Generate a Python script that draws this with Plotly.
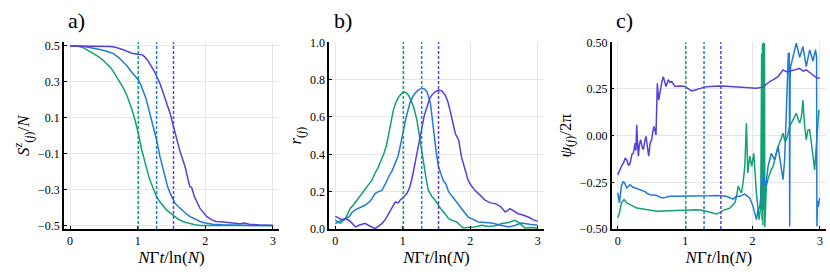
import plotly.graph_objects as go

# ---------------- data ----------------
vlines = [1.01, 1.28, 1.53]   # green, blue, purple dashed markers

# panel a: S^z/N
green_a_t = [0, 0.1, 0.2, 0.27, 0.34, 0.42, 0.49, 0.54, 0.59, 0.64, 0.69, 0.74, 0.79, 0.84, 0.885, 0.92, 0.96, 1.01, 1.06, 1.1, 1.13, 1.17, 1.2, 1.24, 1.28, 1.33, 1.38, 1.43, 1.48, 1.55, 1.62, 1.7, 1.77, 1.85, 1.92, 2.1, 2.4, 2.7, 3.0]
green_a = [0.5, 0.5, 0.489, 0.474, 0.457, 0.44, 0.42, 0.403, 0.383, 0.358, 0.328, 0.3, 0.263, 0.225, 0.18, 0.14, 0.087, 0.013, -0.08, -0.14, -0.19, -0.235, -0.265, -0.305, -0.34, -0.37, -0.395, -0.415, -0.43, -0.452, -0.47, -0.482, -0.49, -0.496, -0.5, -0.5, -0.5, -0.5, -0.5]

blue_a_t = [0, 0.15, 0.25, 0.35, 0.44, 0.54, 0.64, 0.72, 0.79, 0.85, 0.91, 0.96, 1.01, 1.05, 1.08, 1.12, 1.155, 1.19, 1.23, 1.28, 1.33, 1.37, 1.4, 1.44, 1.48, 1.52, 1.55, 1.6, 1.65, 1.71, 1.77, 1.85, 1.92, 2.0, 2.11, 2.25, 2.41, 2.7, 3.0]
blue_a = [0.5, 0.499, 0.494, 0.488, 0.48, 0.47, 0.457, 0.435, 0.41, 0.385, 0.355, 0.335, 0.31, 0.28, 0.254, 0.21, 0.16, 0.11, 0.05, -0.024, -0.117, -0.175, -0.228, -0.28, -0.32, -0.355, -0.376, -0.395, -0.413, -0.432, -0.45, -0.466, -0.478, -0.486, -0.493, -0.496, -0.498, -0.5, -0.5]

purple_a_t = [0, 0.2, 0.4, 0.59, 0.67, 0.74, 0.8, 0.86, 0.93, 0.98, 1.03, 1.07, 1.1, 1.14, 1.18, 1.25, 1.33, 1.4, 1.48, 1.55, 1.62, 1.7, 1.74, 1.77, 1.8, 1.84, 1.92, 1.97, 2.02, 2.09, 2.16, 2.23, 2.31, 2.4, 2.51, 2.58, 2.65, 2.8, 3.0]
purple_a = [0.5, 0.5, 0.5, 0.496, 0.492, 0.485, 0.477, 0.467, 0.457, 0.455, 0.452, 0.45, 0.44, 0.425, 0.40, 0.356, 0.29, 0.217, 0.124, 0.022, -0.08, -0.172, -0.24, -0.283, -0.29, -0.34, -0.404, -0.43, -0.45, -0.468, -0.478, -0.48, -0.483, -0.487, -0.49, -0.486, -0.493, -0.498, -0.5]

# panel b: r
green_b_t = [0, 0.07, 0.15, 0.22, 0.27, 0.32, 0.37, 0.42, 0.48, 0.54, 0.59, 0.64, 0.68, 0.72, 0.76, 0.79, 0.83, 0.86, 0.9, 0.94, 0.98, 1.01, 1.05, 1.085, 1.12, 1.16, 1.21, 1.26, 1.31, 1.35, 1.38, 1.43, 1.48, 1.53, 1.58, 1.63, 1.68, 1.74, 1.8, 1.85, 1.9, 1.98, 2.07, 2.17, 2.27, 2.37, 2.47, 2.57, 2.66, 2.74, 2.81, 2.9, 3.0]
green_b = [0.047, 0.03, 0.055, 0.11, 0.13, 0.154, 0.18, 0.2, 0.23, 0.26, 0.3, 0.333, 0.37, 0.404, 0.45, 0.51, 0.58, 0.637, 0.68, 0.708, 0.725, 0.735, 0.73, 0.717, 0.69, 0.655, 0.583, 0.458, 0.333, 0.26, 0.207, 0.175, 0.154, 0.125, 0.1, 0.08, 0.055, 0.045, 0.038, 0.02, 0.005, 0.01, 0.011, 0.02, 0.014, 0.018, 0.029, 0.035, 0.047, 0.03, 0.005, 0.008, 0.005]

blue_b_t = [0, 0.05, 0.1, 0.15, 0.2, 0.25, 0.3, 0.37, 0.44, 0.52, 0.59, 0.64, 0.69, 0.74, 0.79, 0.84, 0.89, 0.93, 0.96, 1.0, 1.04, 1.08, 1.11, 1.15, 1.18, 1.23, 1.28, 1.32, 1.36, 1.41, 1.46, 1.5, 1.53, 1.57, 1.6, 1.64, 1.68, 1.73, 1.78, 1.83, 1.87, 1.92, 1.97, 2.05, 2.12, 2.22, 2.32, 2.45, 2.57, 2.67, 2.76, 2.88, 3.0]
blue_b = [0.029, 0.04, 0.047, 0.058, 0.064, 0.09, 0.104, 0.115, 0.127, 0.15, 0.19, 0.2, 0.207, 0.24, 0.28, 0.31, 0.35, 0.39, 0.44, 0.52, 0.583, 0.64, 0.68, 0.71, 0.726, 0.745, 0.753, 0.75, 0.735, 0.673, 0.51, 0.4, 0.333, 0.29, 0.26, 0.24, 0.2, 0.175, 0.154, 0.13, 0.11, 0.085, 0.064, 0.05, 0.038, 0.035, 0.032, 0.02, 0.011, 0.02, 0.032, 0.025, 0.02]

purple_b_t = [0, 0.05, 0.1, 0.15, 0.2, 0.25, 0.3, 0.35, 0.39, 0.44, 0.49, 0.54, 0.59, 0.64, 0.69, 0.74, 0.79, 0.84, 0.89, 0.93, 0.96, 1.01, 1.06, 1.1, 1.13, 1.17, 1.21, 1.25, 1.28, 1.32, 1.36, 1.4, 1.43, 1.48, 1.53, 1.58, 1.63, 1.67, 1.7, 1.74, 1.78, 1.81, 1.83, 1.87, 1.92, 1.97, 2.02, 2.07, 2.15, 2.22, 2.3, 2.37, 2.45, 2.52, 2.59, 2.65, 2.71, 2.78, 2.86, 2.93, 3.0]
purple_b = [0.068, 0.06, 0.05, 0.055, 0.047, 0.03, 0.011, 0.02, 0.025, 0.03, 0.02, 0.012, 0.002, 0.015, 0.029, 0.05, 0.082, 0.11, 0.145, 0.14, 0.154, 0.17, 0.19, 0.22, 0.26, 0.33, 0.404, 0.48, 0.547, 0.61, 0.655, 0.7, 0.717, 0.735, 0.744, 0.74, 0.717, 0.68, 0.637, 0.57, 0.51, 0.49, 0.476, 0.386, 0.32, 0.26, 0.23, 0.207, 0.18, 0.154, 0.14, 0.136, 0.12, 0.091, 0.109, 0.095, 0.082, 0.075, 0.064, 0.05, 0.041]

# panel c: psi/2pi
green_c_t = [0, 0.025, 0.054, 0.094, 0.133, 0.183, 0.23, 0.281, 0.35, 0.429, 0.5, 0.577, 0.68, 0.775, 0.87, 0.972, 1.07, 1.169, 1.25, 1.317, 1.4, 1.465, 1.52, 1.564, 1.663, 1.737, 1.76, 1.786, 1.81, 1.835, 1.86, 1.885, 1.909, 1.929, 1.959, 1.988, 2.018, 2.057, 2.097, 2.121, 2.135, 2.141, 2.147, 2.153, 2.158, 2.163, 2.168, 2.172, 2.177, 2.182, 2.186, 2.205, 2.23, 2.255, 2.28, 2.304, 2.33, 2.353, 2.38, 2.403, 2.43, 2.452, 2.48, 2.502, 2.53, 2.551, 2.58, 2.6, 2.625, 2.649, 2.675, 2.699, 2.725, 2.748, 2.773, 2.797, 2.82, 2.847, 2.87, 2.896, 2.921, 2.945, 2.965, 2.985]
green_c = [-0.44, -0.414, -0.36, -0.343, -0.36, -0.37, -0.38, -0.388, -0.392, -0.397, -0.4, -0.405, -0.404, -0.402, -0.4, -0.4, -0.398, -0.397, -0.4, -0.405, -0.412, -0.42, -0.41, -0.4, -0.388, -0.36, -0.33, -0.27, -0.29, -0.307, -0.25, -0.165, 0.067, -0.2, -0.11, -0.165, -0.094, -0.307, -0.45, -0.38, 0.44, -0.45, 0.49, -0.48, 0.5, -0.4, 0.48, -0.46, 0.495, -0.49, -0.45, -0.27, -0.23, -0.2, -0.18, -0.165, -0.12, -0.094, -0.06, -0.04, -0.01, 0.013, -0.03, -0.022, 0.02, 0.05, 0.07, 0.085, 0.1, 0.12, 0.09, 0.067, 0.1, 0.19, 0.05, -0.022, 0.03, 0.031, -0.03, -0.094, -0.183, -0.058, 0.05, 0.138]

blue_c_t = [0, 0.025, 0.054, 0.084, 0.11, 0.133, 0.16, 0.183, 0.22, 0.257, 0.29, 0.33, 0.37, 0.405, 0.44, 0.479, 0.53, 0.577, 0.63, 0.676, 0.73, 0.775, 0.873, 0.97, 1.071, 1.17, 1.268, 1.37, 1.465, 1.54, 1.613, 1.712, 1.76, 1.811, 1.885, 1.959, 2.008, 2.057, 2.08, 2.107, 2.156, 2.195, 2.23, 2.279, 2.328, 2.378, 2.427, 2.452, 2.476, 2.511, 2.531, 2.545, 2.551, 2.557, 2.565, 2.6, 2.649, 2.699, 2.748, 2.797, 2.847, 2.896, 2.935, 2.95, 2.955, 2.965, 2.975, 2.995]
blue_c = [-0.307, -0.36, -0.27, -0.245, -0.26, -0.28, -0.27, -0.263, -0.275, -0.28, -0.285, -0.29, -0.295, -0.3, -0.31, -0.316, -0.318, -0.32, -0.33, -0.334, -0.328, -0.325, -0.325, -0.325, -0.325, -0.325, -0.325, -0.322, -0.32, -0.323, -0.325, -0.34, -0.325, -0.325, -0.313, -0.334, -0.38, -0.45, -0.4, -0.38, -0.218, -0.27, -0.165, -0.094, -0.13, -0.058, -0.165, -0.236, -0.13, 0.19, 0.44, 0.44, -0.486, 0.3, 0.37, 0.42, 0.495, 0.42, 0.477, 0.37, 0.46, 0.4, 0.46, 0.42, -0.486, -0.35, -0.38, -0.334]

purple_c_t = [0, 0.035, 0.06, 0.084, 0.11, 0.133, 0.16, 0.183, 0.21, 0.232, 0.257, 0.27, 0.281, 0.295, 0.306, 0.32, 0.34, 0.36, 0.38, 0.4, 0.419, 0.44, 0.459, 0.48, 0.503, 0.52, 0.538, 0.567, 0.587, 0.607, 0.636, 0.656, 0.676, 0.695, 0.715, 0.75, 0.775, 0.8, 0.849, 0.923, 0.997, 1.05, 1.095, 1.15, 1.219, 1.29, 1.367, 1.44, 1.515, 1.61, 1.712, 1.81, 1.909, 1.98, 2.057, 2.156, 2.2, 2.255, 2.31, 2.378, 2.452, 2.502, 2.55, 2.6, 2.65, 2.699, 2.75, 2.797, 2.85, 2.896, 2.95, 2.995]
purple_c = [-0.21, -0.174, -0.16, -0.147, -0.12, -0.13, -0.16, -0.147, -0.1, -0.094, -0.04, -0.08, 0.058, -0.05, -0.11, -0.05, -0.022, -0.06, -0.075, -0.03, -0.004, -0.06, -0.11, -0.04, -0.022, 0.02, 0.05, 0.004, 0.28, 0.19, 0.263, 0.29, 0.316, 0.28, 0.263, 0.3, 0.285, 0.29, 0.263, 0.266, 0.263, 0.25, 0.24, 0.245, 0.254, 0.26, 0.263, 0.265, 0.266, 0.265, 0.263, 0.262, 0.26, 0.258, 0.254, 0.26, 0.275, 0.29, 0.3, 0.316, 0.352, 0.343, 0.345, 0.348, 0.355, 0.36, 0.345, 0.352, 0.34, 0.325, 0.31, 0.307]

# ---------------- style ----------------
GREEN = "#11a173"
BLUE = "#1f7bd3"
PURPLE = "#5a3ddb"
colors = [GREEN, BLUE, PURPLE]
FONT = "'Liberation Serif', 'DejaVu Serif', serif"

fig = go.Figure()

panels = [
    ("x", "y", [(green_a_t, green_a), (blue_a_t, blue_a), (purple_a_t, purple_a)]),
    ("x2", "y2", [(green_b_t, green_b), (blue_b_t, blue_b), (purple_b_t, purple_b)]),
    ("x3", "y3", [(green_c_t, green_c), (blue_c_t, blue_c), (purple_c_t, purple_c)]),
]
for xa, ya, series in panels:
    for (t, v), c in zip(series, colors):
        fig.add_trace(go.Scatter(x=t, y=v, mode="lines", xaxis=xa, yaxis=ya,
                                 line=dict(color=c, width=1.5), showlegend=False,
                                 hoverinfo="skip"))
    for xv, c in zip(vlines, colors):
        fig.add_shape(type="line", xref=xa, yref=ya + " domain", x0=xv, x1=xv, y0=0, y1=1,
                      line=dict(color=c, width=1.5, dash="3px,2px"))

ydom = [0.1642, 0.8456]
xdoms = [[0.0771, 0.3361], [0.3967, 0.6551], [0.737, 0.9952]]
xtitle = "<i>N</i>Γ<i>t</i>/ln(<i>N</i>)"
common_x = dict(range=[-0.09, 3.09], tickvals=[0, 1, 2, 3], showgrid=True,
                gridcolor="#e6e6e6", gridwidth=1, zeroline=False, showline=True,
                linecolor="black", linewidth=1.5, ticks="inside", ticklen=3,
                tickcolor="black", tickfont=dict(family=FONT, size=12, color="black"),
                title=dict(text=xtitle, font=dict(family=FONT, size=17, color="black"), standoff=1),
                automargin=False)
common_y = dict(showgrid=True, gridcolor="#e6e6e6", gridwidth=1, zeroline=False,
                showline=True, linecolor="black", linewidth=1.5, ticks="inside",
                ticklen=3, tickcolor="black",
                tickfont=dict(family=FONT, size=12, color="black"), automargin=False,
                domain=ydom)

fig.update_layout(
    width=830, height=274, margin=dict(l=0, r=0, t=0, b=0),
    paper_bgcolor="white", plot_bgcolor="white",
    font=dict(family=FONT, color="black"),
    xaxis=dict(common_x, domain=xdoms[0], anchor="y"),
    xaxis2=dict(common_x, domain=xdoms[1], anchor="y2"),
    xaxis3=dict(common_x, domain=xdoms[2], anchor="y3"),
    yaxis=dict(common_y, anchor="x", range=[-0.52, 0.52],
               tickvals=[0.5, 0.3, 0.1, -0.1, -0.3, -0.5], tickformat=".1f",
               title=dict(text="<i>S</i><sup><i>z</i></sup><sub>(<i>j</i>)</sub>/<i>N</i>",
                          font=dict(family=FONT, size=17, color="black"), standoff=4)),
    yaxis2=dict(common_y, anchor="x2", range=[0, 1],
                tickvals=[0, 0.2, 0.4, 0.6, 0.8, 1.0], tickformat=".1f",
                title=dict(text="<i>r</i><sub>(<i>j</i>)</sub>",
                           font=dict(family=FONT, size=17, color="black"), standoff=4)),
    yaxis3=dict(common_y, anchor="x3", range=[-0.5, 0.5],
                tickvals=[0.5, 0.25, 0, -0.25, -0.5], tickformat=".2f",
                title=dict(text="<i>ψ</i><sub>(<i>j</i>)</sub>/2π",
                           font=dict(family=FONT, size=17, color="black"), standoff=4)),
)

for label, xd in zip(["a)", "b)", "c)"], xdoms):
    fig.add_annotation(text=label, xref="paper", yref="paper", x=xd[0] + 0.003, y=1 - 20 / 274,
                       xanchor="left", yanchor="middle", showarrow=False,
                       font=dict(family=FONT, size=22, color="black"))

fig.write_html("out.html", config={"displayModeBar": False},
               post_script="document.body.style.margin='0px';")
